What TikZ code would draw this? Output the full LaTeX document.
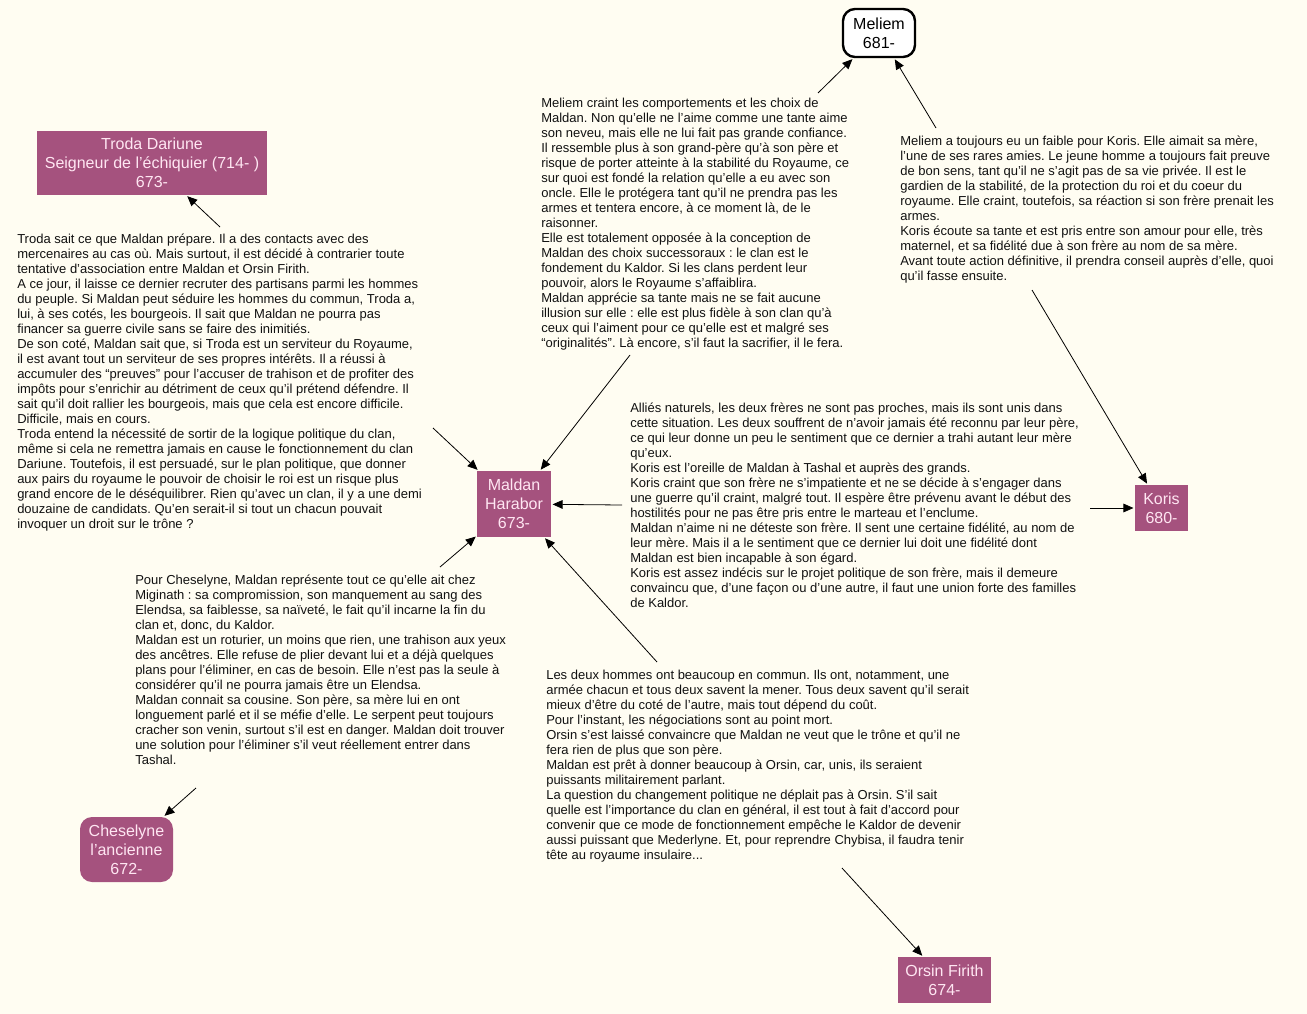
\documentclass[tikz,border=0pt]{standalone}
\usepackage{fontspec}
\setmainfont{Liberation Sans}
\usetikzlibrary{arrows.meta}
\frenchspacing
\definecolor{bgcol}{HTML}{FFFDF2}
\definecolor{mauve}{HTML}{A5527E}
\definecolor{pinktxt}{HTML}{FFE6F2}
\definecolor{txtcol}{HTML}{111111}
\tikzset{
  person/.style={fill=mauve, text=pinktxt, align=center, inner sep=0pt,
    font=\fontsize{12}{14.25}\selectfont},
  rperson/.style={person, rounded corners=9pt},
  meliembox/.style={draw=black, line width=1.8pt, fill=white, text=black, rounded corners=9pt,
    align=center, inner sep=0pt, font=\fontsize{12}{14.25}\selectfont},
  note/.style={anchor=north west, align=left, inner sep=0pt, text=txtcol,
    font=\fontsize{9.75}{11.25}\selectfont\frenchspacing},
  link/.style={line width=0.6pt, -{Triangle[length=7.5pt,width=6.5pt]}, shorten >=1pt}
}
\begin{document}
\begin{tikzpicture}[x=0.75pt,y=-0.75pt]
\path[fill=bgcol,use as bounding box] (0,0) rectangle (1307,1014);

% person nodes
\node[meliembox, minimum width=54pt, minimum height=36pt] (meliem) at (879,33) {Meliem\\681-};
\node[person, minimum width=172.5pt, minimum height=48pt] (troda) at (152,163) {Troda Dariune\\Seigneur de l’échiquier (714- )\\673-};
\node[person, minimum width=55.5pt, minimum height=49.5pt] (maldan) at (514,504) {Maldan\\Harabor\\673-};
\node[person, minimum width=39.75pt, minimum height=34.5pt] (koris) at (1161.5,508) {Koris\\680-};
\node[rperson, minimum width=69.75pt, minimum height=48.75pt] (cheselyne) at (126.5,849.5) {Cheselyne\\l’ancienne\\672-};
\node[person, minimum width=69.75pt, minimum height=34.5pt] (orsin) at (944.5,980) {Orsin Firith\\674-};

% text nodes
\node[note] (tTroda) at (17,234) {Troda sait ce que Maldan prépare. Il a des contacts avec des\\
mercenaires au cas où. Mais surtout, il est décidé à contrarier toute\\
tentative d’association entre Maldan et Orsin Firith.\\
A ce jour, il laisse ce dernier recruter des partisans parmi les hommes\\
du peuple. Si Maldan peut séduire les hommes du commun, Troda a,\\
lui, à ses cotés, les bourgeois. Il sait que Maldan ne pourra pas\\
financer sa guerre civile sans se faire des inimitiés.\\
De son coté, Maldan sait que, si Troda est un serviteur du Royaume,\\
il est avant tout un serviteur de ses propres intérêts. Il a réussi à\\
accumuler des “preuves” pour l’accuser de trahison et de profiter des\\
impôts pour s’enrichir au détriment de ceux qu’il prétend défendre. Il\\
sait qu’il doit rallier les bourgeois, mais que cela est encore difficile.\\
Difficile, mais en cours.\\
Troda entend la nécessité de sortir de la logique politique du clan,\\
même si cela ne remettra jamais en cause le fonctionnement du clan\\
Dariune. Toutefois, il est persuadé, sur le plan politique, que donner\\
aux pairs du royaume le pouvoir de choisir le roi est un risque plus\\
grand encore de le déséquilibrer. Rien qu’avec un clan, il y a une demi\\
douzaine de candidats. Qu’en serait-il si tout un chacun pouvait\\
invoquer un droit sur le trône ?};

\node[note] (tMeliem) at (541,98) {Meliem craint les comportements et les choix de\\
Maldan. Non qu’elle ne l’aime comme une tante aime\\
son neveu, mais elle ne lui fait pas grande confiance.\\
Il ressemble plus à son grand-père qu’à son père et\\
risque de porter atteinte à la stabilité du Royaume, ce\\
sur quoi est fondé la relation qu’elle a eu avec son\\
oncle. Elle le protégera tant qu’il ne prendra pas les\\
armes et tentera encore, à ce moment là, de le\\
raisonner.\\
Elle est totalement opposée à la conception de\\
Maldan des choix successoraux : le clan est le\\
fondement du Kaldor. Si les clans perdent leur\\
pouvoir, alors le Royaume s’affaiblira.\\
Maldan apprécie sa tante mais ne se fait aucune\\
illusion sur elle : elle est plus fidèle à son clan qu’à\\
ceux qui l’aiment pour ce qu’elle est et malgré ses\\
“originalités”. Là encore, s’il faut la sacrifier, il le fera.};

\node[note] (tMK) at (900,136) {Meliem a toujours eu un faible pour Koris. Elle aimait sa mère,\\
l’une de ses rares amies. Le jeune homme a toujours fait preuve\\
de bon sens, tant qu’il ne s’agit pas de sa vie privée. Il est le\\
gardien de la stabilité, de la protection du roi et du coeur du\\
royaume. Elle craint, toutefois, sa réaction si son frère prenait les\\
armes.\\
Koris écoute sa tante et est pris entre son amour pour elle, très\\
maternel, et sa fidélité due à son frère au nom de sa mère.\\
Avant toute action définitive, il prendra conseil auprès d’elle, quoi\\
qu’il fasse ensuite.};

\node[note] (tKoris) at (630,403) {Alliés naturels, les deux frères ne sont pas proches, mais ils sont unis dans\\
cette situation. Les deux souffrent de n’avoir jamais été reconnu par leur père,\\
ce qui leur donne un peu le sentiment que ce dernier a trahi autant leur mère\\
qu’eux.\\
Koris est l’oreille de Maldan à Tashal et auprès des grands.\\
Koris craint que son frère ne s’impatiente et ne se décide à s’engager dans\\
une guerre qu’il craint, malgré tout. Il espère être prévenu avant le début des\\
hostilités pour ne pas être pris entre le marteau et l’enclume.\\
Maldan n’aime ni ne déteste son frère. Il sent une certaine fidélité, au nom de\\
leur mère. Mais il a le sentiment que ce dernier lui doit une fidélité dont\\
Maldan est bien incapable à son égard.\\
Koris est assez indécis sur le projet politique de son frère, mais il demeure\\
convaincu que, d’une façon ou d’une autre, il faut une union forte des familles\\
de Kaldor.};

\node[note] (tChes) at (135,575) {Pour Cheselyne, Maldan représente tout ce qu’elle ait chez\\
Miginath : sa compromission, son manquement au sang des\\
Elendsa, sa faiblesse, sa naïveté, le fait qu’il incarne la fin du\\
clan et, donc, du Kaldor.\\
Maldan est un roturier, un moins que rien, une trahison aux yeux\\
des ancêtres. Elle refuse de plier devant lui et a déjà quelques\\
plans pour l’éliminer, en cas de besoin. Elle n’est pas la seule à\\
considérer qu’il ne pourra jamais être un Elendsa.\\
Maldan connait sa cousine. Son père, sa mère lui en ont\\
longuement parlé et il se méfie d’elle. Le serpent peut toujours\\
cracher son venin, surtout s’il est en danger. Maldan doit trouver\\
une solution pour l’éliminer s’il veut réellement entrer dans\\
Tashal.};

\node[note] (tOrsin) at (546,670) {Les deux hommes ont beaucoup en commun. Ils ont, notamment, une\\
armée chacun et tous deux savent la mener. Tous deux savent qu’il serait\\
mieux d’être du coté de l’autre, mais tout dépend du coût.\\
Pour l’instant, les négociations sont au point mort.\\
Orsin s’est laissé convaincre que Maldan ne veut que le trône et qu’il ne\\
fera rien de plus que son père.\\
Maldan est prêt à donner beaucoup à Orsin, car, unis, ils seraient\\
puissants militairement parlant.\\
La question du changement politique ne déplait pas à Orsin. S’il sait\\
quelle est l’importance du clan en général, il est tout à fait d’accord pour\\
convenir que ce mode de fonctionnement empêche le Kaldor de devenir\\
aussi puissant que Mederlyne. Et, pour reprendre Chybisa, il faudra tenir\\
tête au royaume insulaire...};

% arrow tails
\coordinate (aTroda) at (220,227);
\coordinate (aMel1) at (818,93);
\coordinate (aMel2) at (936,128);
\coordinate (aMK) at (1032,290);
\coordinate (aMelM) at (630,355);
\coordinate (aTrodaM) at (433,428);
\coordinate (aKorisM) at (622,505);
\coordinate (aKoris) at (1090,508);
\coordinate (aChesM) at (440,567);
\coordinate (aChes) at (196,788);
\coordinate (aOrsinM) at (657,662);
\coordinate (aOrsin) at (842,868);

\draw[link] (aTroda) -- (troda);
\draw[link] (aMel1) -- (meliem);
\draw[link] (aMel2) -- (meliem);
\draw[link] (aMK) -- (koris);
\draw[link] (aMelM) -- (maldan);
\draw[link] (aTrodaM) -- (maldan);
\draw[link] (aKorisM) -- (maldan);
\draw[link] (aKoris) -- (koris);
\draw[link] (aChesM) -- (maldan);
\draw[link] (aChes) -- (cheselyne);
\draw[link] (aOrsinM) -- (maldan);
\draw[link] (aOrsin) -- (orsin);
\end{tikzpicture}
\end{document}
